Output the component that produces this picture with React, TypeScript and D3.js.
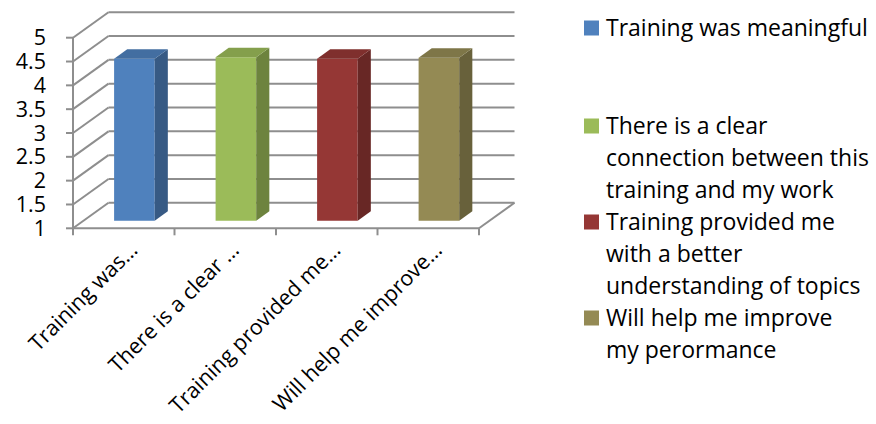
import React from 'react';
import * as d3 from 'd3';

// chart data
const categories = ['Training was…', 'There is a clear …', 'Training provided me…', 'Will help me improve…'];
const seriesNames = [
  'Training was meaningful',
  'There is a clear connection between this training and my work',
  'Training provided me with a better understanding of topics',
  'Will help me improve my perormance',
];
const legendLines = [
  ['Training was meaningful'],
  ['There is a clear', 'connection between this', 'training and my work'],
  ['Training provided me', 'with a better', 'understanding of topics'],
  ['Will help me improve', 'my perormance'],
];
const values = [4.4, 4.43, 4.4, 4.42];
const yTicks = [1, 1.5, 2, 2.5, 3, 3.5, 4, 4.5, 5];

const colors = ['#4F81BD', '#9BBB59', '#953735', '#948A54'];

const W = 876;
const H = 424;
const DX = 35.5; // depth offset of the 3d box
const DY = 25.5;
const FONT = "'Open Sans', sans-serif";
const GRID = '#8e8e8e';

const App = () => {
  const x = d3.scaleBand<string>().domain(categories).range([73, 479]).padding(0);
  const y = d3.scaleLinear().domain([1, 5]).range([228.3, 37.7]);

  const proj = (px: number, v: number, d: number): [number, number] => [px + d * DX, y(v) - d * DY];
  const poly = (pts: [number, number][]) => pts.map(p => p.join(',')).join(' ');

  const front = 0.3;
  const back = 0.67;
  const bw = x.bandwidth() * 0.4;

  const [x0, x1] = x.range();

  return (
    <svg width={W} height={H} style={{ position: 'absolute', left: 0, top: 0, background: '#fff' }}
      fontFamily={FONT}>
      {/* back wall gridlines */}
      {yTicks.map(t => {
        const a = proj(x0, t, 1);
        const b = proj(x1, t, 1);
        return <line key={'bg' + t} x1={a[0]} y1={a[1]} x2={b[0]} y2={b[1]} stroke={GRID} strokeWidth={2} />;
      })}
      {/* side wall gridlines */}
      {yTicks.map(t => {
        const a = proj(x0, t, 0);
        const b = proj(x0, t, 1);
        return <line key={'sg' + t} x1={a[0]} y1={a[1]} x2={b[0]} y2={b[1]} stroke={GRID} strokeWidth={2} />;
      })}
      {/* floor right edge */}
      {(() => {
        const a = proj(x1, 1, 0);
        const b = proj(x1, 1, 1);
        return <line x1={a[0]} y1={a[1]} x2={b[0]} y2={b[1]} stroke={GRID} strokeWidth={2} />;
      })()}

      {/* bars */}
      {categories.map((c, i) => {
        const cx = (x(c) as number) + x.bandwidth() / 2;
        const l = cx - bw / 2;
        const r = cx + bw / 2;
        const v = values[i];
        const base = d3.color(colors[i])!;
        return (
          <g key={c}>
            <polygon points={poly([proj(l, 1, front), proj(r, 1, front), proj(r, v, front), proj(l, v, front)])}
              fill={colors[i]} />
            <polygon points={poly([proj(r, 1, front), proj(r, 1, back), proj(r, v, back), proj(r, v, front)])}
              fill={base.darker(1).formatHex()} />
            <polygon points={poly([proj(l, v, front), proj(r, v, front), proj(r, v, back), proj(l, v, back)])}
              fill={base.darker(0.45).formatHex()} />
          </g>
        );
      })}

      {/* front axes */}
      <line x1={x0} y1={y(5)} x2={x0} y2={y(1)} stroke={GRID} strokeWidth={2} />
      <line x1={x0} y1={y(1)} x2={x1} y2={y(1)} stroke={GRID} strokeWidth={2} />
      {yTicks.map(t => (
        <g key={'yt' + t}>
          <line x1={x0 - 7} y1={y(t)} x2={x0} y2={y(t)} stroke={GRID} strokeWidth={2} />
          <text x={46} y={y(t)} dy="0.35em" textAnchor="end" fontSize={21.5} fill="#000">{String(t)}</text>
        </g>
      ))}
      {[x0, ...categories.map(c => (x(c) as number) + x.bandwidth())].map((px, i) => (
        <line key={'xt' + i} x1={px} y1={y(1)} x2={px} y2={y(1) + 7} stroke={GRID} strokeWidth={2} />
      ))}
      {categories.map(c => {
        const ax = (x(c) as number) + x.bandwidth() / 2 + 15;
        const ay = y(1) + 23;
        return (
          <text key={'cl' + c} x={ax} y={ay} textAnchor="end" fontSize={21.5} fill="#000"
            transform={`rotate(-45,${ax},${ay})`}>{c}</text>
        );
      })}

      {/* legend */}
      {seriesNames.map((s, i) => {
        const by = 38 + i * 96 - (i === 0 ? 2 : 0);
        return (
          <g key={'lg' + i}>
            <title>{s}</title>
            <rect x={584} y={by - 15.5} width={15} height={15} fill={colors[i]} />
            {legendLines[i].map((ln, j) => (
              <text key={j} x={606} y={by + j * 32} fontSize={23} fill="#000">{ln}</text>
            ))}
          </g>
        );
      })}
    </svg>
  );
};

export default App;
